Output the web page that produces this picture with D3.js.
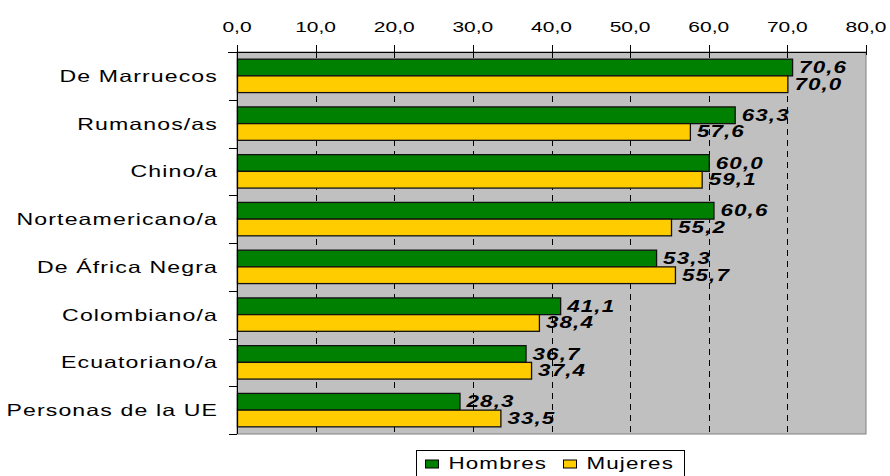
<!DOCTYPE html>
<html>
<head>
<meta charset="utf-8">
<script src="https://cdn.jsdelivr.net/npm/d3@7"></script>
<style>
  body { margin: 0; background: #fff; }
  text { font-family: "Liberation Sans", Arial, sans-serif; fill: #000; }
</style>
</head>
<body>
<svg></svg>
<script>
// categories top to bottom
var categories = ["De Marruecos", "Rumanos/as", "Chino/a", "Norteamericano/a",
                  "De África Negra", "Colombiano/a", "Ecuatoriano/a", "Personas de la UE"];
var hombres = [70.6, 63.3, 60.0, 60.6, 53.3, 41.1, 36.7, 28.3];
var mujeres = [70.0, 57.6, 59.1, 55.2, 55.7, 38.4, 37.4, 33.5];
var tickValues = [0, 10, 20, 30, 40, 50, 60, 70, 80];
var seriesNames = ["Hombres", "Mujeres"];
var seriesColors = ["#008000", "#FFCC00"];

var screen = {width: 890, height: 476};
var margins = {left: 237, right: 24, top: 52, bottom: 42};
var graph = {
    width: screen.width - margins.left - margins.right,
    height: screen.height - margins.top - margins.bottom
};
var sx = 1.4; // text in the picture is stretched horizontally

var fmt = function(v) { return d3.format(".1f")(v).replace(".", ","); };
var makeTranslateString = function(x, y) { return "translate(" + x + "," + y + ")"; };
var stretch = function(x, y) { return makeTranslateString(x, y) + " scale(" + sx + ",1)"; };

var svg = d3.select("svg").attr("width", screen.width).attr("height", screen.height);

var xScale = d3.scaleLinear().domain([0, 80]).range([0, graph.width]);
var yScale = d3.scaleBand().domain(categories).range([0, graph.height])
    .paddingInner(0.3).paddingOuter(0.15);
var subScale = d3.scaleBand().domain(seriesNames).range([0, yScale.bandwidth()]);

var target = svg.append("g").attr("transform", makeTranslateString(margins.left, margins.top));

// plot background
target.append("rect")
    .attr("width", graph.width).attr("height", graph.height)
    .attr("fill", "#C0C0C0").attr("stroke", "#808080");

// dashed gridlines
target.selectAll(".grid").data(tickValues.slice(1, -1)).enter().append("line")
    .attr("x1", function(d) { return Math.round(xScale(d)) + 0.5; })
    .attr("x2", function(d) { return Math.round(xScale(d)) + 0.5; })
    .attr("y1", 0).attr("y2", graph.height)
    .attr("stroke", "#000").attr("stroke-dasharray", "6,5");

// bars
var data = categories.map(function(c, i) {
    return {cat: c, values: [{s: "Hombres", v: hombres[i]}, {s: "Mujeres", v: mujeres[i]}]};
});
var groups = target.selectAll(".grp").data(data).enter().append("g")
    .attr("transform", function(d) { return makeTranslateString(0, yScale(d.cat)); });
groups.selectAll("rect").data(function(d) { return d.values; }).enter().append("rect")
    .attr("x", 0.5)
    .attr("y", function(d) { return subScale(d.s); })
    .attr("width", function(d) { return xScale(d.v); })
    .attr("height", subScale.bandwidth())
    .attr("fill", function(d, i) { return seriesColors[i]; })
    .attr("stroke", "#111").attr("stroke-width", 1.3);

// value labels
groups.selectAll(".lab").data(function(d) { return d.values; }).enter().append("g")
    .attr("transform", function(d) {
        return stretch(xScale(d.v) + 7, subScale(d.s) + subScale.bandwidth() / 2 + 5.5);
    })
    .append("text")
    .attr("font-size", 16).attr("font-weight", "bold").attr("font-style", "italic")
    .attr("letter-spacing", 0.8)
    .text(function(d) { return fmt(d.v); });

// top axis
target.append("line").attr("x1", -9).attr("x2", graph.width).attr("y1", 0.5).attr("y2", 0.5)
    .attr("stroke", "#000");
target.selectAll(".xt").data(tickValues).enter().append("line")
    .attr("x1", function(d) { return Math.round(xScale(d)) + 0.5; })
    .attr("x2", function(d) { return Math.round(xScale(d)) + 0.5; })
    .attr("y1", -7).attr("y2", 3).attr("stroke", "#000");
target.selectAll(".xl").data(tickValues).enter().append("g")
    .attr("transform", function(d) { return stretch(xScale(d), -20); })
    .append("text")
    .attr("text-anchor", "middle").attr("font-size", 15)
    .text(fmt);

// left axis
target.append("line").attr("x1", 0.5).attr("x2", 0.5).attr("y1", 0).attr("y2", graph.height)
    .attr("stroke", "#000");
var step = yScale.step();
target.selectAll(".yt").data(d3.range(categories.length + 1)).enter().append("line")
    .attr("x1", -8).attr("x2", 0)
    .attr("y1", function(i) { return Math.round(i * step) + 0.5; })
    .attr("y2", function(i) { return Math.round(i * step) + 0.5; })
    .attr("stroke", "#000");
target.selectAll(".yl").data(categories).enter().append("g")
    .attr("transform", function(d) { return stretch(-19, yScale(d) + yScale.bandwidth() / 2 + 6); })
    .append("text")
    .attr("text-anchor", "end").attr("font-size", 16.5).attr("letter-spacing", 0.8)
    .text(function(d) { return d; });

// legend
var legend = svg.append("g").attr("transform", makeTranslateString(416.5, 450.5));
legend.append("rect").attr("width", 268).attr("height", 34)
    .attr("fill", "#fff").attr("stroke", "#000");
var legendX = [9, 147];
var items = legend.selectAll(".li").data(seriesNames).enter().append("g")
    .attr("transform", function(d, i) { return makeTranslateString(legendX[i], 0); });
items.append("rect").attr("y", 9.5).attr("width", 13).attr("height", 8)
    .attr("fill", function(d, i) { return seriesColors[i]; }).attr("stroke", "#000");
items.append("g").attr("transform", "translate(23,18) scale(" + sx + ",1)")
    .append("text").attr("font-size", 16).attr("letter-spacing", 0.8)
    .text(function(d) { return d; });
</script>
</body>
</html>
